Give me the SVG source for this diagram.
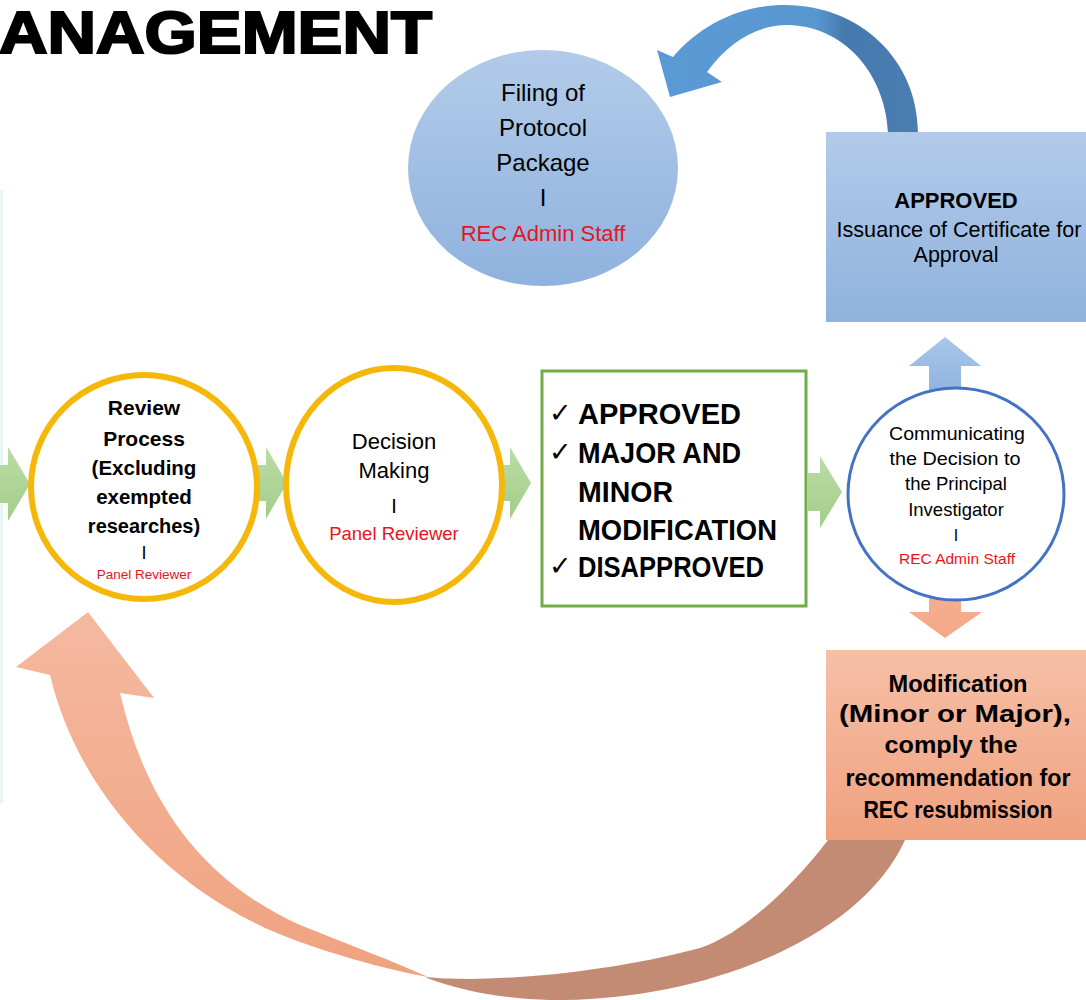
<svg xmlns="http://www.w3.org/2000/svg" width="1086" height="1000" viewBox="0 0 1086 1000">
<defs>
<style>
.t{font-family:"Liberation Sans",Arial,sans-serif;fill:#000;text-anchor:middle}
.b{font-weight:bold}
.red{fill:#e8141c}
.ck{font-family:"DejaVu Sans",sans-serif;font-size:27px;fill:#000}
.gbox{font-family:"Liberation Sans",Arial,sans-serif;font-weight:bold;font-size:29px;fill:#000}
.garrow{fill:url(#gGreen)}
</style>
<linearGradient id="gBlueFill" x1="0" y1="0" x2="0" y2="1">
<stop offset="0" stop-color="#b3cbe9"/><stop offset="1" stop-color="#8fb2de"/>
</linearGradient>
<linearGradient id="gSalmon" x1="0" y1="0" x2="0" y2="1">
<stop offset="0" stop-color="#f6c0a7"/><stop offset="1" stop-color="#f0a17f"/>
</linearGradient>
<linearGradient id="gGreen" x1="0" y1="0" x2="0" y2="1">
<stop offset="0" stop-color="#bcdca7"/><stop offset="1" stop-color="#a3cd88"/>
</linearGradient>
<linearGradient id="gBlueArc" x1="650" y1="0" x2="920" y2="0" gradientUnits="userSpaceOnUse">
<stop offset="0" stop-color="#5b9bd5"/><stop offset="0.62" stop-color="#5896d0"/><stop offset="0.72" stop-color="#4679ad"/><stop offset="1" stop-color="#4a7db0"/>
</linearGradient>
<linearGradient id="gUp" x1="0" y1="0" x2="0" y2="1">
<stop offset="0" stop-color="#a9c6ea"/><stop offset="1" stop-color="#8cb3e0"/>
</linearGradient>
<linearGradient id="gDown" x1="0" y1="0" x2="0" y2="1">
<stop offset="0" stop-color="#f3ae90"/><stop offset="1" stop-color="#f4a889"/>
</linearGradient>
<linearGradient id="gBigLight" x1="0" y1="610" x2="0" y2="980" gradientUnits="userSpaceOnUse">
<stop offset="0" stop-color="#f5b9a0"/><stop offset="1" stop-color="#efa27f"/>
</linearGradient>
</defs>

<rect x="0" y="0" width="1086" height="1000" fill="#ffffff"/>
<line x1="1.5" y1="190" x2="1.5" y2="803" stroke="#dcf1f3" stroke-width="2"/>

<g id="title">
<text x="-1" y="53" font-family="'Liberation Sans',Arial,sans-serif" font-size="60" font-weight="900" fill="#000" stroke="#000" stroke-width="2.2" textLength="433" lengthAdjust="spacingAndGlyphs">ANAGEMENT</text>
</g>

<g id="connectors">
<path class="garrow" d="M0 465 L8 465 L8 447 L30 484 L8 521 L8 503 L0 503 Z"/>
<path class="garrow" d="M258 465 L266 465 L266 447 L287 483 L266 519 L266 501 L258 501 Z"/>
<path class="garrow" d="M503 465 L510 465 L510 447 L531 483 L510 519 L510 501 L503 501 Z"/>
<path class="garrow" d="M808 473 L820 473 L820 456 L842 492 L820 528 L820 511 L808 511 Z"/>
<path fill="url(#gBlueArc)" d="M888 133 C886 80 850 28 790 25 C760 24 730 40 707 72 L722 82 L670 97 L657 50 L673 57 C700 25 740 5 785 5 C860 5 918 60 918 133 Z"/>
<path fill="url(#gUp)" d="M929 395 L929 366 L909 366 L945 337 L981 366 L961 366 L961 395 Z"/>
<path fill="url(#gDown)" d="M929 598 L961 598 L961 612 L982 612 L945 638 L909 612 L929 612 Z"/>
<path fill="#c48b74" d="M427 977 C480 983 600 975 700 948 C740 935 790 890 828 840 L905 840 C860 940 700 1002 550 1000 C500 999 460 990 427 978 Z"/>
<path fill="url(#gBigLight)" d="M50 675 L16 667 L88 612 L154 698 L120 693 C145 800 200 880 300 925 C350 945 390 960 428 977 C400 972 350 960 300 942 C180 900 80 800 50 675 Z"/>
</g>

<g id="node-filing">
<ellipse cx="543" cy="168" rx="135" ry="118" fill="url(#gBlueFill)"/>
<text class="t" x="543" y="101" font-size="24">Filing of</text>
<text class="t" x="543" y="136" font-size="24">Protocol</text>
<text class="t" x="543" y="171" font-size="24">Package</text>
<text class="t" x="543" y="206" font-size="24">I</text>
<text class="t red" x="543" y="241" font-size="22">REC Admin Staff</text>
</g>

<g id="node-approved">
<rect x="826" y="132" width="262" height="190" fill="url(#gBlueFill)"/>
<text class="t b" x="956" y="208" font-size="22">APPROVED</text>
<text class="t" x="959" y="237" font-size="21.5" textLength="245" lengthAdjust="spacingAndGlyphs">Issuance of Certificate for</text>
<text class="t" x="956" y="262" font-size="21.5">Approval</text>
</g>

<g id="node-review">
<ellipse cx="144" cy="487" rx="113" ry="112" fill="#fff" stroke="#f5b80a" stroke-width="6"/>
<text class="t b" x="144" y="415" font-size="21">Review</text>
<text class="t b" x="144" y="446" font-size="21">Process</text>
<text class="t b" x="144" y="475" font-size="20.5">(Excluding</text>
<text class="t b" x="144" y="504" font-size="20.5">exempted</text>
<text class="t b" x="144" y="533" font-size="20">researches)</text>
<text class="t" x="144" y="559" font-size="18">I</text>
<text class="t red" x="144" y="579" font-size="13.5">Panel Reviewer</text>
</g>

<g id="node-decision">
<ellipse cx="394" cy="485" rx="108" ry="117" fill="#fff" stroke="#f5b80a" stroke-width="6"/>
<text class="t" x="394" y="449" font-size="22">Decision</text>
<text class="t" x="394" y="478" font-size="22">Making</text>
<text class="t" x="394" y="513" font-size="20">I</text>
<text class="t red" x="394" y="540" font-size="18.5">Panel Reviewer</text>
</g>

<g id="node-outcomes">
<rect x="542" y="371" width="264" height="235" fill="#fff" stroke="#70ad47" stroke-width="3"/>
<text class="ck" x="549" y="422">✓</text>
<text class="gbox" x="578" y="424" textLength="163" lengthAdjust="spacingAndGlyphs">APPROVED</text>
<text class="ck" x="549" y="461">✓</text>
<text class="gbox" x="578" y="463" textLength="163" lengthAdjust="spacingAndGlyphs">MAJOR AND</text>
<text class="gbox" x="578" y="502" textLength="95" lengthAdjust="spacingAndGlyphs">MINOR</text>
<text class="gbox" x="578" y="540" textLength="199" lengthAdjust="spacingAndGlyphs">MODIFICATION</text>
<text class="ck" x="549" y="575">✓</text>
<text class="gbox" x="578" y="577" textLength="186" lengthAdjust="spacingAndGlyphs">DISAPPROVED</text>
</g>

<g id="node-communicating">
<ellipse cx="956" cy="494" rx="108" ry="106" fill="#fff" stroke="#4472c4" stroke-width="3"/>
<text class="t" x="957" y="440" font-size="18.5" textLength="136" lengthAdjust="spacingAndGlyphs">Communicating</text>
<text class="t" x="955" y="465" font-size="18.5" textLength="131" lengthAdjust="spacingAndGlyphs">the Decision to</text>
<text class="t" x="956" y="490" font-size="18.5">the Principal</text>
<text class="t" x="956" y="516" font-size="18.5">Investigator</text>
<text class="t" x="956" y="541" font-size="16">I</text>
<text class="t red" x="957" y="564" font-size="15.5">REC Admin Staff</text>
</g>

<g id="node-modification">
<rect x="826" y="650" width="262" height="190" fill="url(#gSalmon)"/>
<text class="t b" x="958" y="692" font-size="24" textLength="139" lengthAdjust="spacingAndGlyphs">Modification</text>
<text class="t b" x="955" y="722" font-size="24" textLength="232" lengthAdjust="spacingAndGlyphs">(Minor or Major),</text>
<text class="t b" x="951" y="753" font-size="24" textLength="133" lengthAdjust="spacingAndGlyphs">comply the</text>
<text class="t b" x="958" y="786" font-size="24" textLength="225" lengthAdjust="spacingAndGlyphs">recommendation for</text>
<text class="t b" x="958" y="818" font-size="24" textLength="189" lengthAdjust="spacingAndGlyphs">REC resubmission</text>
</g>
</svg>
